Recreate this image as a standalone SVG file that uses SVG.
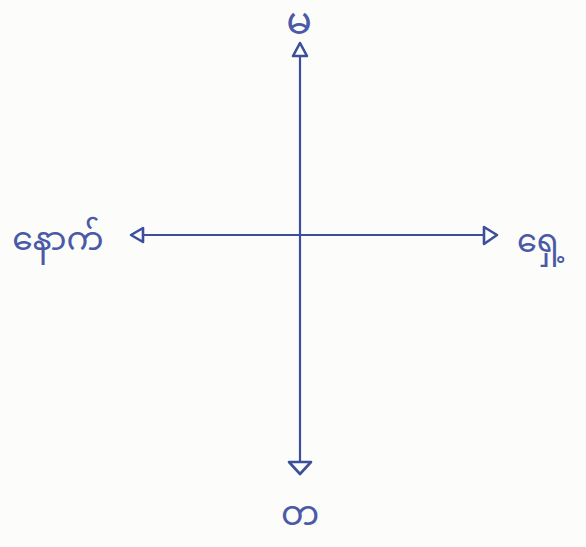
<svg xmlns="http://www.w3.org/2000/svg" width="586" height="547" viewBox="0 0 586 547">
<style>
.ax{stroke:#3d4f9c;stroke-width:2.2;fill:none;stroke-linecap:round;stroke-linejoin:round}
.hd{stroke:#3d4f9c;stroke-width:2.6;fill:none;stroke-linejoin:round}
.lb{fill:#4a5aa6;font-family:"Noto Sans Myanmar","Padauk","Myanmar Text","Noto Sans",sans-serif;text-anchor:middle}
</style>
<rect width="586" height="547" fill="#fcfcfa"/>
<g id="connectors">
<line class="ax" x1="300" y1="56" x2="300" y2="462"/>
<line class="ax" x1="143" y1="235" x2="483" y2="235"/>
<polygon class="hd" points="300,43 293,56 307,56"/>
<polygon class="hd" points="131,235 143,228 143,242"/>
<polygon class="hd" points="497,235 484,227 484,244"/>
<polygon class="hd" points="289,462 311,462 300,474"/>
</g>
<g id="north"><text class="lb" x="299" y="34" font-size="38">မ</text></g>
<g id="west"><text class="lb" x="58" y="250" font-size="33">နောက်</text></g>
<g id="east"><text class="lb" x="541" y="252" font-size="32">ရှေ့</text></g>
<g id="south"><text class="lb" x="300" y="525" font-size="34">တ</text></g>
</svg>
